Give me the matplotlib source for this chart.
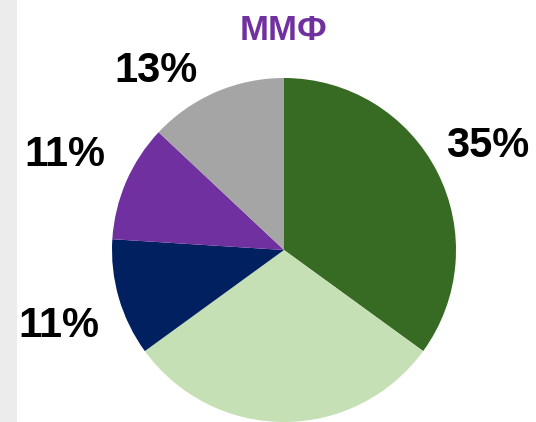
import numpy as np
import matplotlib.pyplot as plt
from matplotlib.patches import Rectangle

# Dannye
doli = [35, 30, 11, 11, 13]
podpisi = ['35%', '', '11%', '11%', '13%']
cveta = ['#376b23', '#c5e0b4', '#002060', '#7030a0', '#a5a5a5']
zagolovok = 'ММФ'

# Rasstoyanie podpisey ot centra i sdvig ugla
rasst = [1.33, 1.3, 1.38, 1.39, 1.28]
sdvig = [0, 0, 2.5, 0, 12]

plt.rcParams['font.family'] = ['Liberation Sans', 'DejaVu Sans']

fig = plt.figure(figsize=(5.36, 4.22), dpi=100)
fig.patch.set_facecolor('white')
# Seraya polosa sleva
fig.patches.append(Rectangle((0, 0), 17 / 536, 1, transform=fig.transFigure,
                             facecolor='#ececec', edgecolor='none', zorder=0))

W, H = 536, 422
cx, cy, r = 284, 250, 172
ax = fig.add_axes([(cx - r) / W, (H - cy - r) / H, 2 * r / W, 2 * r / H])

wedges, _ = ax.pie(doli, colors=cveta, startangle=90, counterclock=False,
                   radius=1, wedgeprops=dict(edgecolor='none'))
ax.set_xlim(-1, 1)
ax.set_ylim(-1, 1)
ax.set_aspect('equal')
ax.axis('off')

for w, txt, d, s in zip(wedges, podpisi, rasst, sdvig):
    if not txt:
        continue
    ang = np.deg2rad((w.theta1 + w.theta2) / 2 + s)
    ax.text(d * np.cos(ang), d * np.sin(ang), txt, ha='center', va='center',
            fontsize=30, fontweight='bold', color='black')

fig.text(cx / W, 1 - 31 / H, zagolovok, ha='center', va='center',
         fontsize=25, fontweight='bold', color='#7030a0')

fig.savefig('out.png', dpi=100)
